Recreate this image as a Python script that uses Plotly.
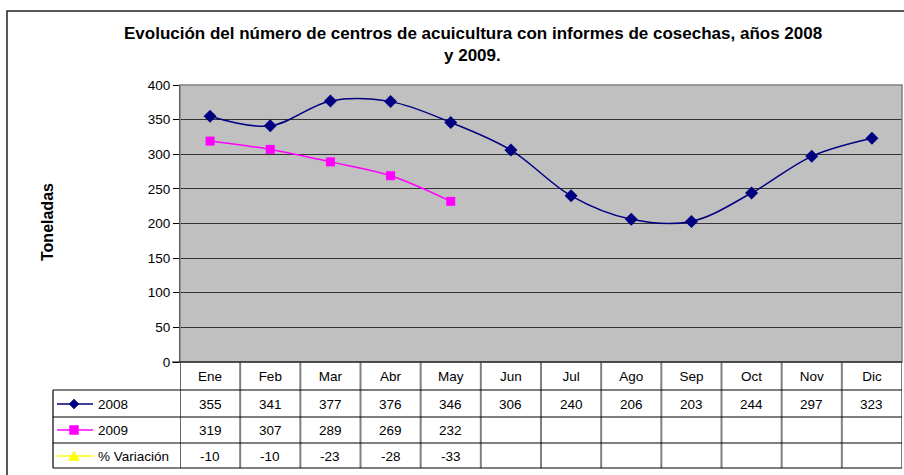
import plotly.graph_objects as go

months = ["Ene", "Feb", "Mar", "Abr", "May", "Jun", "Jul", "Ago", "Sep", "Oct", "Nov", "Dic"]
s2008 = [355, 341, 377, 376, 346, 306, 240, 206, 203, 244, 297, 323]
s2009 = [319, 307, 289, 269, 232, None, None, None, None, None, None, None]
variacion = [-10, -10, -23, -28, -33, None, None, None, None, None, None, None]
series_names = ["2008", "2009", "% Variación"]
series_colors = ["#000080", "#FF00FF", "#FFFF00"]

title_lines = ["Evolución del número de centros de acuicultura con informes de cosechas, años 2008", "y 2009."]
y_title = "Toneladas"

W, H = 904, 475
def px(x):
    return x / W
def py(y):
    return 1 - y / H

FONT = "Liberation Sans, Arial, sans-serif"

fig = go.Figure()
fig.add_trace(go.Scatter(
    x=months, y=s2008, mode="lines+markers", name=series_names[0],
    line=dict(color=series_colors[0], width=1.5, shape="spline", smoothing=1.0),
    marker=dict(symbol="diamond", size=10, color=series_colors[0]),
))
fig.add_trace(go.Scatter(
    x=months, y=s2009, mode="lines+markers", name=series_names[1],
    line=dict(color=series_colors[1], width=1.5, shape="spline", smoothing=1.0),
    marker=dict(symbol="square", size=9, color=series_colors[1]),
))

plot_left, plot_right, plot_top, plot_bottom = 180, 902, 85, 362
row_lines = [390, 417, 443, 468]
table_left = 53

shapes = []
# outer border
shapes.append(dict(type="rect", xref="paper", yref="paper", x0=px(7), x1=px(912), y0=py(11), y1=py(485),
                   line=dict(color="#222", width=1.5), layer="below"))
# plot area border (gray)
shapes.append(dict(type="rect", xref="paper", yref="paper", x0=px(plot_left), x1=px(plot_right),
                   y0=py(plot_top), y1=py(plot_bottom), line=dict(color="#808080", width=1.5)))
# table vertical column separators (gray)
for i in range(1, 13):
    shapes.append(dict(type="line", xref="x", yref="paper", x0=i - 0.5, x1=i - 0.5,
                       y0=py(plot_bottom), y1=py(row_lines[-1]), line=dict(color="#808080", width=2)))
# left black lines
shapes.append(dict(type="line", xref="x", yref="paper", x0=-0.5, x1=-0.5,
                   y0=py(plot_bottom), y1=py(row_lines[-1]), line=dict(color="black", width=1.2)))
shapes.append(dict(type="line", xref="paper", yref="paper", x0=px(table_left), x1=px(table_left),
                   y0=py(row_lines[0]), y1=py(row_lines[-1]), line=dict(color="black", width=1.2)))
# horizontal lines
shapes.append(dict(type="line", xref="paper", yref="paper", x0=px(plot_left - 8), x1=px(plot_right),
                   y0=py(plot_bottom), y1=py(plot_bottom), line=dict(color="black", width=1.2)))
for ry in row_lines:
    shapes.append(dict(type="line", xref="paper", yref="paper", x0=px(table_left), x1=px(plot_right),
                       y0=py(ry), y1=py(ry), line=dict(color="black", width=1.2)))

annotations = []
row_centers = [404, 430, 456]
rows = [s2008, s2009, variacion]
for r, vals in enumerate(rows):
    for m, v in zip(months, vals):
        if v is None:
            continue
        annotations.append(dict(x=m, xref="x", y=py(row_centers[r]), yref="paper", text=str(v),
                                showarrow=False, font=dict(family=FONT, size=13.5, color="black"),
                                xanchor="center", yanchor="middle"))
    # legend key
    yc = row_centers[r]
    col = series_colors[r]
    shapes.append(dict(type="line", xref="paper", yref="paper", x0=px(57), x1=px(93),
                       y0=py(yc), y1=py(yc), line=dict(color=col, width=1.5)))
    cx = 74
    if r == 0:
        path = f"M {px(cx-5)} {py(yc)} L {px(cx)} {py(yc-5)} L {px(cx+5)} {py(yc)} L {px(cx)} {py(yc+5)} Z"
    elif r == 1:
        path = f"M {px(cx-4.5)} {py(yc-4.5)} L {px(cx+4.5)} {py(yc-4.5)} L {px(cx+4.5)} {py(yc+4.5)} L {px(cx-4.5)} {py(yc+4.5)} Z"
    else:
        path = f"M {px(cx-5.5)} {py(yc+4.5)} L {px(cx)} {py(yc-5)} L {px(cx+5.5)} {py(yc+4.5)} Z"
    shapes.append(dict(type="path", xref="paper", yref="paper", path=path,
                       fillcolor=col, line=dict(color=col, width=0.5)))
    annotations.append(dict(x=px(96), xref="paper", y=py(yc), yref="paper", text=series_names[r],
                            showarrow=False, font=dict(family=FONT, size=13.5, color="black"),
                            xanchor="left", yanchor="middle"))

# title (two lines)
for txt, yy in zip(title_lines, [33, 55]):
    annotations.append(dict(x=px(473), xref="paper", y=py(yy), yref="paper", text=f"<b>{txt}</b>",
                            showarrow=False, font=dict(family=FONT, size=17, color="black"),
                            xanchor="center", yanchor="middle"))
annotations.append(dict(x=px(47), xref="paper", y=py(222), yref="paper", text=f"<b>{y_title}</b>",
                        showarrow=False, textangle=-90, font=dict(family=FONT, size=16, color="black"),
                        xanchor="center", yanchor="middle"))

fig.update_layout(
    width=W, height=H, autosize=False,
    margin=dict(l=0, r=0, t=0, b=0, pad=0, autoexpand=False),
    paper_bgcolor="white",
    plot_bgcolor="#C0C0C0",
    showlegend=False,
    font=dict(family=FONT, size=13, color="black"),
    xaxis=dict(type="category", categoryorder="array", categoryarray=months,
               range=[-0.5, 11.5], domain=[px(plot_left), px(plot_right)], automargin=False,
               showgrid=False, zeroline=False, showline=False, ticks="",
               tickfont=dict(family=FONT, size=13.5), ticklabelstandoff=4),
    yaxis=dict(range=[0, 400], dtick=50, domain=[py(plot_bottom), py(plot_top)], automargin=False,
               showgrid=True, gridcolor="#333333", gridwidth=1, zeroline=False,
               showline=True, linecolor="black", linewidth=1.2,
               ticks="outside", ticklen=6, tickcolor="black",
               tickfont=dict(family=FONT, size=13.5)),
    shapes=shapes,
    annotations=annotations,
)

post = (
    "var gd=document.getElementById('{plot_id}');"
    "var de=document.documentElement, b=document.body;"
    "de.style.margin='0';de.style.padding='0';de.style.overflow='hidden';de.style.height='475px';"
    "b.style.margin='0';b.style.padding='0';b.style.overflow='hidden';b.style.height='475px';"
    "gd.style.position='absolute';gd.style.left='0px';gd.style.top='0px';"
)
fig.write_html("out.html", config={"responsive": False, "displayModeBar": False}, post_script=post)
